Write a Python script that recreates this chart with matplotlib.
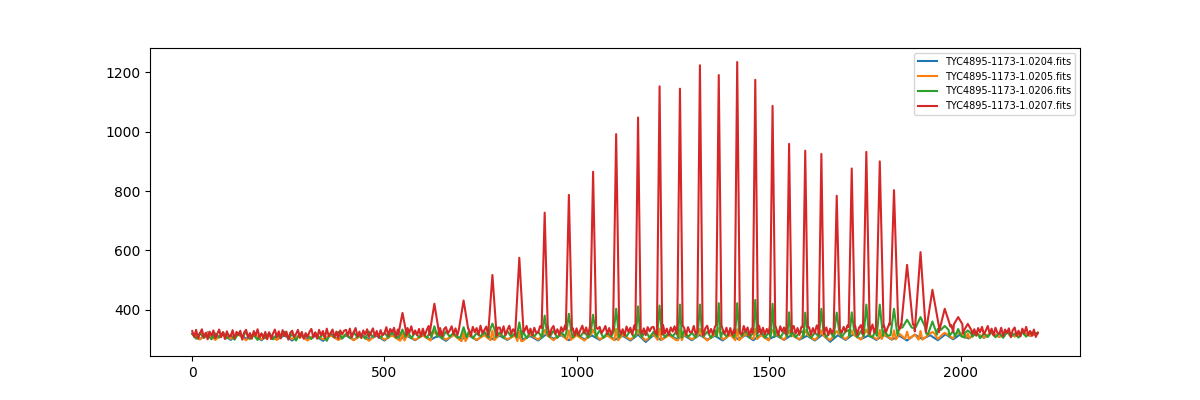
import numpy as np
import matplotlib.pyplot as plt

plt.rcParams["path.simplify"] = False

names = ["TYC4895-1173-1.0204.fits", "TYC4895-1173-1.0205.fits",
         "TYC4895-1173-1.0206.fits", "TYC4895-1173-1.0207.fits"]

# baseline samples (0..2200): 0204/0205 every 20 px, 0206 every 10 px, 0207 every 5 px
base_0204 = [320, 300, 324, 304, 318, 298, 322, 302, 316, 297,
             317, 300, 313, 296, 316, 301, 312, 295, 315, 299,
             313, 298, 316, 300, 312, 296, 317, 301, 311, 297,
             315, 299, 312, 295, 316, 300, 313, 297, 317, 301,
             312, 298, 315, 300, 311, 296, 316, 302, 314, 297,
             317, 300, 313, 298, 315, 299, 312, 296, 316, 291,
             314, 298, 317, 301, 313, 297, 315, 299, 312, 296,
             316, 301, 314, 297, 317, 300, 313, 298, 315, 299,
             312, 296, 316, 292, 314, 298, 317, 301, 313, 298,
             315, 299, 312, 296, 316, 301, 314, 297, 317, 300,
             318, 303, 320, 305, 322, 308, 326, 310, 324, 312,
             320]

base_0205 = [318, 300, 322, 298, 320, 302, 316, 297, 319, 300,
             315, 298, 318, 301, 314, 296, 317, 300, 313, 298,
             316, 297, 314, 295, 317, 299, 313, 296, 315, 298,
             313, 296, 317, 299, 315, 294, 316, 298, 314, 297,
             317, 300, 313, 294, 316, 299, 315, 297, 318, 298,
             314, 296, 317, 300, 313, 297, 316, 299, 315, 296,
             318, 298, 314, 297, 317, 300, 313, 296, 316, 299,
             315, 297, 318, 301, 314, 296, 317, 298, 315, 300,
             316, 298, 314, 297, 319, 300, 315, 299, 318, 301,
             317, 300, 319, 302, 316, 299, 320, 301, 318, 303,
             320, 304, 322, 306, 324, 308, 326, 310, 323, 312,
             322]

base_0206 = [318, 302, 322, 305, 315, 300, 320, 306, 324, 303,
             316, 299, 321, 307, 325, 301, 314, 298, 319, 304,
             322, 300, 317, 305, 326, 302, 318, 296, 320, 307,
             314, 301, 323, 303, 317, 295, 321, 306, 325, 302,
             319, 304, 324, 306, 318, 302, 326, 308, 321, 305,
             322, 306, 327, 305, 320, 309, 328, 304, 323, 307,
             321, 305, 326, 308, 324, 303, 327, 309, 322, 306,
             325, 307, 328, 304, 321, 310, 326, 306, 329, 308,
             323, 305, 327, 309, 322, 307, 328, 304, 325, 310,
             326, 306, 322, 308, 329, 305, 324, 309, 327, 307,
             321, 310, 328, 306, 325, 308, 330, 305, 323, 309,
             327, 307, 324, 310, 329, 306, 322, 308, 328, 305,
             325, 309, 330, 307, 323, 310, 327, 306, 329, 308,
             322, 306, 328, 309, 326, 305, 331, 308, 324, 310,
             329, 307, 325, 311, 330, 306, 323, 309, 328, 305,
             324, 308, 331, 306, 326, 310, 329, 307, 322, 309,
             327, 305, 323, 310, 330, 308, 325, 306, 331, 309,
             326, 310, 332, 307, 328, 311, 330, 308, 333, 312,
             330, 312, 335, 314, 338, 316, 340, 313, 336, 318,
             342, 320, 338, 316, 335, 314, 332, 312, 328, 310,
             324, 306, 321, 309, 326, 304, 320, 308, 325, 307,
             322, 305, 324, 310, 319, 306, 323, 309, 326, 318,
             322]

base_0207 = [328, 308, 332, 302, 320, 334, 306, 322, 300, 326, 312, 330, 304, 318, 333, 307, 324, 301, 327, 310,
             310, 331, 303, 325, 314, 329, 299, 323, 332, 305, 321, 302, 328, 313, 334, 306, 320, 304, 325, 300,
             324, 301, 319, 333, 307, 327, 303, 331, 311, 326, 299, 322, 329, 308, 318, 332, 305, 325, 302, 321,
             308, 325, 335, 306, 323, 302, 332, 314, 328, 305, 336, 311, 321, 333, 307, 326, 303, 330, 316, 329,
             332, 312, 336, 306, 324, 338, 310, 326, 304, 330, 316, 334, 308, 322, 337, 311, 328, 305, 331, 314,
             320, 341, 313, 335, 324, 339, 309, 333, 342, 315, 331, 312, 338, 323, 344, 316, 330, 314, 335, 310,
             336, 313, 331, 345, 319, 339, 315, 343, 323, 338, 311, 334, 341, 320, 330, 344, 317, 337, 314, 333,
             318, 335, 345, 316, 333, 312, 342, 324, 338, 315, 346, 321, 331, 343, 317, 336, 313, 340, 326, 339,
             340, 320, 344, 314, 332, 346, 318, 334, 312, 338, 324, 342, 316, 330, 345, 319, 336, 313, 339, 322,
             323, 344, 316, 338, 327, 342, 312, 336, 345, 318, 334, 315, 341, 326, 347, 319, 333, 317, 338, 313,
             337, 314, 332, 346, 320, 340, 316, 344, 324, 339, 312, 335, 342, 321, 331, 345, 318, 338, 315, 334,
             319, 336, 346, 317, 334, 313, 343, 325, 339, 316, 347, 322, 332, 344, 318, 337, 314, 341, 327, 340,
             342, 322, 346, 316, 334, 348, 320, 336, 314, 340, 326, 344, 318, 332, 347, 321, 338, 315, 341, 324,
             324, 345, 317, 339, 328, 343, 313, 337, 346, 319, 335, 316, 342, 327, 348, 320, 334, 318, 339, 314,
             338, 315, 333, 347, 321, 341, 317, 345, 325, 340, 313, 336, 343, 322, 332, 346, 319, 339, 316, 335,
             320, 337, 347, 318, 335, 314, 344, 326, 340, 317, 348, 323, 333, 345, 319, 338, 315, 342, 328, 341,
             324, 341, 315, 338, 321, 347, 332, 318, 344, 326, 340, 314, 336, 320, 348, 334, 316, 346, 322, 342,
             326, 347, 319, 341, 330, 345, 315, 339, 348, 321, 337, 318, 344, 329, 350, 322, 336, 320, 341, 316,
             346, 323, 341, 355, 329, 349, 325, 353, 333, 348, 321, 344, 351, 330, 340, 354, 327, 347, 324, 343,
             330, 347, 357, 328, 345, 324, 354, 336, 350, 327, 358, 333, 343, 355, 329, 348, 325, 352, 338, 351,
             340, 320, 344, 314, 332, 346, 318, 334, 312, 338, 324, 342, 316, 330, 345, 319, 336, 313, 339, 322,
             318, 339, 311, 333, 322, 337, 307, 331, 340, 313, 329, 310, 336, 321, 342, 314, 328, 312, 333, 308,
             322]

# emission peaks: centre pixel, peak value, half width
peak_pos = [547, 630, 706, 781, 851, 917, 980, 1043, 1103, 1160,
            1216, 1269, 1321, 1370, 1418, 1465, 1510, 1553, 1595, 1637,
            1677, 1716, 1754, 1789, 1826, 1860, 1895, 1926, 1958, 1993, 2018]
peak_0207 = [389, 420, 431, 517, 575, 727, 787, 865, 992, 1048,
             1153, 1145, 1224, 1191, 1235, 1175, 1087, 959, 936, 925,
             784, 876, 932, 900, 803, 551, 594, 467, 403, 375, 352]
width_0207 = [11, 13, 12, 11, 11, 8, 8, 8, 8, 7,
              7, 7, 7, 7, 7, 7, 7, 7, 7, 7,
              8, 8, 9, 10, 11, 15, 15, 17, 15, 11, 9]
peak_0206 = [333, 344, 341, 353, 357, 380, 386, 383, 403, 411,
             414, 417, 417, 422, 422, 433, 420, 391, 390, 403,
             390, 391, 417, 417, 403, 366, 375, 360, 345, 335, 330]
width_0206 = [8, 8, 8, 7, 7, 6, 6, 6, 6, 5,
              5, 5, 5, 5, 5, 5, 5, 5, 5, 5,
              6, 6, 7, 8, 9, 12, 12, 12, 10, 8, 8]
peak_0205 = [322, 326, 324, 330, 328, 332, 330, 333, 335, 332,
             336, 334, 335, 338, 334, 336, 332, 330, 331, 330,
             328, 330, 333, 332, 330, 326, 328, 325, 322, 320, 320]


def build(base, step, heights=None, widths=None):
    x = list(np.arange(0, 2201, step))
    y = list(base)
    if heights is None:
        return x, y
    for c, h, w in zip(peak_pos, heights, widths):
        keep = [i for i in range(len(x)) if abs(x[i] - c) >= w]
        near = base[int(round(c / step))]
        x = [x[i] for i in keep] + [c - w, c, c + w]
        y = [y[i] for i in keep] + [near, h, near]
    order = np.argsort(x)
    return np.array(x)[order], np.array(y)[order]


fig, ax = plt.subplots(figsize=(12, 4), dpi=100)

series = [build(base_0204, 20),
          build(base_0205, 20, peak_0205, [5] * len(peak_pos)),
          build(base_0206, 10, peak_0206, width_0206),
          build(base_0207, 5, peak_0207, width_0207)]

for (x, y), name in zip(series, names):
    ax.plot(x, y, label=name)

ax.legend(loc="upper right", fontsize=7)
fig.savefig("out.png")
